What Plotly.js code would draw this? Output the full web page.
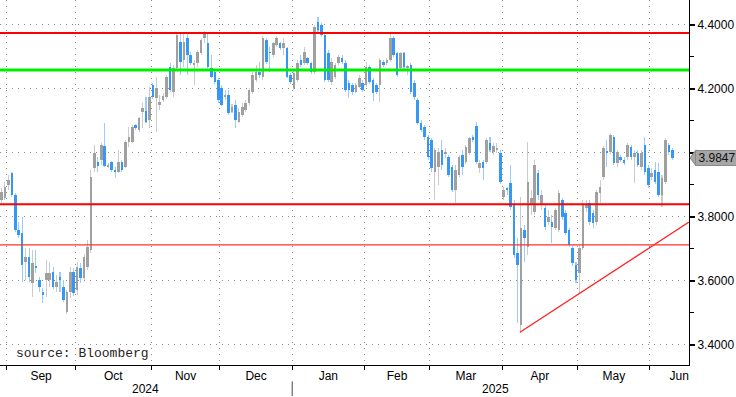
<!DOCTYPE html>
<html><head><meta charset="utf-8">
<script src="https://cdn.plot.ly/plotly-3.0.1.min.js"></script>
<style>html,body{margin:0;padding:0;background:#fff}#chart{width:736px;height:397px}</style>
</head><body><div id="chart"></div>
<script>
const open = [
3.853,3.859,3.900,3.937,3.869,3.759,3.750,3.659,3.675,3.594,
3.647,3.603,3.565,3.603,3.603,3.628,3.581,3.612,3.581,3.503,
3.565,3.628,3.572,3.640,3.609,3.644,3.697,3.953,3.972,3.978,
4.022,3.956,3.972,3.947,3.941,3.972,3.956,4.034,4.034,4.087,
4.072,4.128,4.131,4.103,4.212,4.172,4.150,4.166,4.175,4.269,
4.191,4.266,4.347,4.291,4.359,4.306,4.275,4.281,4.312,4.359,
4.344,4.266,4.253,4.228,4.203,4.175,4.181,4.128,4.150,4.097,
4.119,4.134,4.156,4.191,4.228,4.253,4.237,4.353,4.316,4.306,
4.337,4.344,4.328,4.328,4.244,4.203,4.228,4.291,4.281,4.297,
4.281,4.253,4.409,4.400,4.369,4.312,4.222,4.237,4.281,4.297,
4.281,4.219,4.212,4.191,4.206,4.219,4.212,4.269,4.228,4.212,
4.212,4.284,4.281,4.291,4.359,4.312,4.266,4.312,4.266,4.275,
4.219,4.166,4.094,4.081,4.050,4.041,3.941,3.956,4.009,3.997,
3.987,3.956,3.884,3.931,3.994,3.972,4.000,4.050,4.084,3.953,
3.972,3.972,4.031,4.003,4.009,4.000,3.862,3.890,3.906,3.837,
3.687,3.462,3.759,3.706,3.837,3.815,3.937,3.837,3.828,3.784,
3.784,3.765,3.759,3.853,3.812,3.759,3.703,3.650,3.625,3.703,
3.828,3.844,3.812,3.784,3.875,3.925,4.006,4.003,4.050,3.969,
3.987,3.978,3.987,4.019,3.987,4.000,3.956,4.025,3.953,3.925,
3.947,3.941,3.869,3.909,4.025,4.009];
const high = [
3.890,3.909,3.931,3.941,3.875,3.784,3.800,3.703,3.703,3.697,
3.697,3.612,3.578,3.666,3.659,3.644,3.619,3.628,3.603,3.572,
3.644,3.640,3.659,3.656,3.684,3.728,3.947,4.025,3.987,4.031,
4.094,3.969,3.975,3.956,4.009,3.978,4.041,4.081,4.087,4.091,
4.112,4.156,4.175,4.206,4.219,4.237,4.181,4.187,4.244,4.281,
4.275,4.375,4.375,4.375,4.375,4.316,4.291,4.322,4.359,4.381,
4.375,4.306,4.259,4.234,4.212,4.197,4.197,4.153,4.166,4.141,
4.156,4.166,4.203,4.253,4.275,4.284,4.366,4.359,4.331,4.347,
4.366,4.347,4.359,4.331,4.250,4.259,4.291,4.306,4.331,4.300,
4.284,4.400,4.425,4.406,4.375,4.322,4.297,4.281,4.306,4.306,
4.291,4.228,4.219,4.219,4.244,4.228,4.284,4.275,4.234,4.219,
4.297,4.291,4.297,4.378,4.366,4.316,4.316,4.316,4.275,4.281,
4.228,4.172,4.103,4.087,4.056,4.047,4.016,4.016,4.041,4.016,
3.994,3.962,3.962,3.994,4.009,4.025,4.050,4.056,4.097,3.978,
3.978,4.047,4.050,4.031,4.031,4.009,3.894,3.894,3.962,3.853,
3.734,3.862,3.775,4.034,3.884,3.978,3.947,3.884,3.837,3.822,
3.806,3.828,3.884,3.859,3.822,3.765,3.712,3.659,3.712,3.853,
3.853,3.853,3.822,3.884,3.916,4.022,4.041,4.062,4.056,4.009,
3.994,3.987,4.031,4.025,4.009,4.009,4.009,4.050,3.962,3.953,
3.972,3.969,3.931,4.047,4.031,4.016];
const low = [
3.844,3.853,3.884,3.862,3.753,3.734,3.597,3.603,3.597,3.550,
3.625,3.565,3.531,3.550,3.581,3.575,3.565,3.565,3.534,3.497,
3.547,3.553,3.556,3.594,3.603,3.634,3.687,3.941,3.941,3.962,
3.956,3.953,3.941,3.922,3.937,3.941,3.953,4.019,4.031,4.072,
4.066,4.078,4.094,4.078,4.169,4.066,4.134,4.159,4.169,4.191,
4.175,4.259,4.244,4.269,4.244,4.275,4.212,4.269,4.306,4.344,
4.266,4.234,4.216,4.156,4.147,4.166,4.119,4.125,4.078,4.094,
4.112,4.128,4.150,4.184,4.222,4.234,4.228,4.278,4.253,4.300,
4.331,4.322,4.306,4.234,4.216,4.197,4.222,4.269,4.275,4.275,
4.247,4.247,4.378,4.362,4.222,4.222,4.212,4.231,4.275,4.278,
4.191,4.172,4.181,4.187,4.203,4.191,4.206,4.216,4.162,4.184,
4.159,4.269,4.275,4.284,4.300,4.237,4.259,4.262,4.244,4.184,
4.166,4.087,4.066,4.041,3.978,3.941,3.853,3.900,3.947,3.984,
3.925,3.878,3.844,3.925,3.931,3.966,3.994,4.034,3.966,3.937,
3.916,3.966,4.003,3.994,4.000,3.903,3.853,3.869,3.822,3.672,
3.469,3.437,3.659,3.681,3.806,3.806,3.853,3.822,3.759,3.775,
3.719,3.759,3.753,3.791,3.744,3.706,3.647,3.594,3.562,3.697,
3.815,3.775,3.765,3.775,3.844,3.916,3.956,3.997,3.962,3.956,
3.972,3.962,3.978,3.978,3.906,3.956,3.947,3.931,3.890,3.916,
3.903,3.862,3.831,3.903,3.994,3.978];
const close = [
3.878,3.894,3.916,3.869,3.759,3.744,3.650,3.675,3.612,3.656,
3.640,3.581,3.556,3.625,3.625,3.581,3.597,3.603,3.541,3.565,
3.628,3.562,3.644,3.609,3.675,3.706,3.925,4.000,3.959,4.025,
3.959,3.962,3.947,3.941,3.972,3.947,4.034,4.050,4.081,4.078,
4.109,4.141,4.097,4.175,4.175,4.203,4.159,4.178,4.237,4.197,
4.266,4.369,4.284,4.347,4.306,4.281,4.281,4.316,4.353,4.375,
4.269,4.237,4.222,4.166,4.150,4.181,4.125,4.144,4.103,4.128,
4.144,4.156,4.197,4.244,4.253,4.244,4.359,4.284,4.312,4.344,
4.359,4.328,4.344,4.237,4.222,4.250,4.281,4.275,4.316,4.281,
4.253,4.394,4.384,4.369,4.228,4.228,4.284,4.275,4.300,4.284,
4.197,4.197,4.191,4.212,4.234,4.197,4.269,4.222,4.187,4.191,
4.291,4.275,4.291,4.359,4.306,4.244,4.312,4.269,4.272,4.191,
4.175,4.094,4.072,4.050,3.987,3.953,4.009,4.003,3.962,4.003,
3.931,3.884,3.947,3.987,3.956,4.019,4.047,4.041,3.972,3.969,
3.953,4.041,4.009,4.022,4.016,3.909,3.884,3.884,3.831,3.681,
3.650,3.765,3.734,3.909,3.859,3.962,3.869,3.869,3.769,3.800,
3.769,3.822,3.875,3.800,3.750,3.712,3.656,3.603,3.703,3.837,
3.837,3.784,3.781,3.878,3.894,4.016,4.000,4.056,3.969,4.003,
3.978,3.969,4.025,3.987,4.000,3.962,4.000,3.941,3.900,3.937,
3.909,3.869,3.922,4.041,4.003,3.9847];

const monthLabels = ['Sep','Oct','Nov','Dec','Jan','Feb','Mar','Apr','May','Jun'];
const monthCenters = [11.5,32.5,53.5,74,95,115,135,156.5,178,197];
const monthBounds = [1.5,21.5,43.5,63.5,84.5,105.5,124.5,145.5,167.5,188.5];
const yearLabels = ['2024','2025'];
const yearCenters = [42,143.5];
const yearBoundary = 84.5;
const yTicks = [3.4,3.6,3.8,4.0,4.2,4.4];
const yTickText = ['3.4000','3.6000','3.8000','','4.2000','4.4000'];
const yMinor = [3.5,3.7,3.9,4.1,4.3];
const lastPriceText = '3.9847';
const redLevels = [4.375, 3.840];
const greenLevel = 4.259;
const thinRedLevel = 3.7125;
const trendX = [150.7, 199.85];
const trendY = [3.440, 3.784];

const idx = open.map((_, i) => i);
const isUp = open.map((o, i) => close[i] >= o);
const wickH = high.map((h, i) => h - low[i]);
const wickCol = isUp.map(u => u ? '#cbcbcb' : '#9ccbff');
const bodyBase = open.map((o, i) => Math.min(o, close[i]));
const bodyH = open.map((o, i) => Math.max(Math.abs(close[i] - o), 0.0025));
const bodyCol = isUp.map(u => u ? '#a0a0a0' : '#3797f5');

const xr = [-0.44, 199.85];
const yr = [3.3374, 4.478];

const traces = [
  {type:'bar', x: idx, y: wickH, base: low, width: 0.3,
   marker:{color: wickCol, line:{width:0}}, hoverinfo:'skip', showlegend:false},
  {type:'bar', x: idx, y: bodyH, base: bodyBase, width: 0.75,
   marker:{color: bodyCol, line:{width:0}}, hoverinfo:'skip', showlegend:false},
  {type:'scatter', mode:'lines', x: trendX, y: trendY,
   line:{color:'#ff2020', width:1.3}, hoverinfo:'skip', showlegend:false}
];

const shapes = [];
redLevels.forEach(v => shapes.push({type:'line', xref:'paper', x0:0, x1:1, yref:'y', y0:v, y1:v,
  line:{color:'#ff0000', width:2}, layer:'above'}));
shapes.push({type:'line', xref:'paper', x0:0, x1:1, yref:'y', y0:greenLevel, y1:greenLevel,
  line:{color:'#00ee00', width:3}, layer:'above'});
shapes.push({type:'line', xref:'paper', x0:0, x1:1, yref:'y', y0:thinRedLevel, y1:thinRedLevel,
  line:{color:'#ff3030', width:1.2}, layer:'above'});
shapes.push({type:'line', xref:'x', x0:yearBoundary, x1:yearBoundary, yref:'paper', y0:-0.045, y1:-0.085,
  line:{color:'#444', width:1}, layer:'above'});
const lastClose = close[close.length - 1];
shapes.push({type:'path', xref:'paper', xsizemode:'pixel', xanchor:1, yref:'y', ysizemode:'pixel', yanchor:lastClose,
  path:'M 1 0 L 7 8 L 7 -8 Z', fillcolor:'#a6a6a6', line:{color:'#8a8a8a', width:1}, layer:'above'});

const annotations = [
  {xref:'paper', x:1, xanchor:'left', xshift:6, yref:'y', y:lastClose, yanchor:'middle',
   text:lastPriceText, showarrow:false, bgcolor:'#a6a6a6', bordercolor:'#8a8a8a', borderwidth:1, borderpad:0,
   width:42, align:'center',
   font:{family:'Liberation Sans, Arial, sans-serif', size:12, color:'#111'}},
  {xref:'paper', x:14/689, xanchor:'left', yref:'paper', y:(365-353)/365, yanchor:'middle',
   text:'source: Bloomberg', showarrow:false,
   font:{family:'Liberation Mono, DejaVu Sans Mono, monospace', size:13, color:'#2a2222'}}
];
yearLabels.forEach((t, i) => annotations.push({xref:'x', x:yearCenters[i], yref:'paper', y:0, yshift:-24,
  yanchor:'middle', text:t, showarrow:false,
  font:{family:'Liberation Sans, Arial, sans-serif', size:12, color:'#000'}}));

const layout = {
  width:736, height:397,
  margin:{l:0, r:47, t:0, b:32, pad:0},
  paper_bgcolor:'#fff', plot_bgcolor:'#fff',
  showlegend:false, hovermode:false, barmode:'overlay', bargap:0,
  xaxis:{type:'linear', range:xr, fixedrange:true,
    tickmode:'array', tickvals:monthCenters, ticktext:monthLabels, ticks:'', showgrid:false, zeroline:false,
    showline:true, linecolor:'#000', linewidth:1,
    tickfont:{family:'Liberation Sans, Arial, sans-serif', size:12, color:'#000'},
    minor:{tickmode:'array', tickvals:monthBounds, ticks:'outside', ticklen:4, tickcolor:'#000', tickwidth:1,
      showgrid:true, gridcolor:'#8c8c8c', gridwidth:1, griddash:'1px,5px'}},
  yaxis:{range:yr, side:'right', fixedrange:true, zeroline:false,
    tickmode:'array', tickvals:yTicks, ticktext:yTickText, ticks:'outside', ticklen:5, tickwidth:2, tickcolor:'#000',
    showgrid:true, gridcolor:'#8c8c8c', gridwidth:1, griddash:'1px,5px',
    showline:true, linecolor:'#000', linewidth:1,
    tickfont:{family:'Liberation Sans, Arial, sans-serif', size:12, color:'#000'},
    minor:{tickmode:'array', tickvals:yMinor, ticks:'outside', ticklen:4, tickwidth:1, tickcolor:'#000', showgrid:false}},
  shapes: shapes,
  annotations: annotations
};

Plotly.newPlot('chart', traces, layout, {staticPlot:true, displayModeBar:false});
</script></body></html>
